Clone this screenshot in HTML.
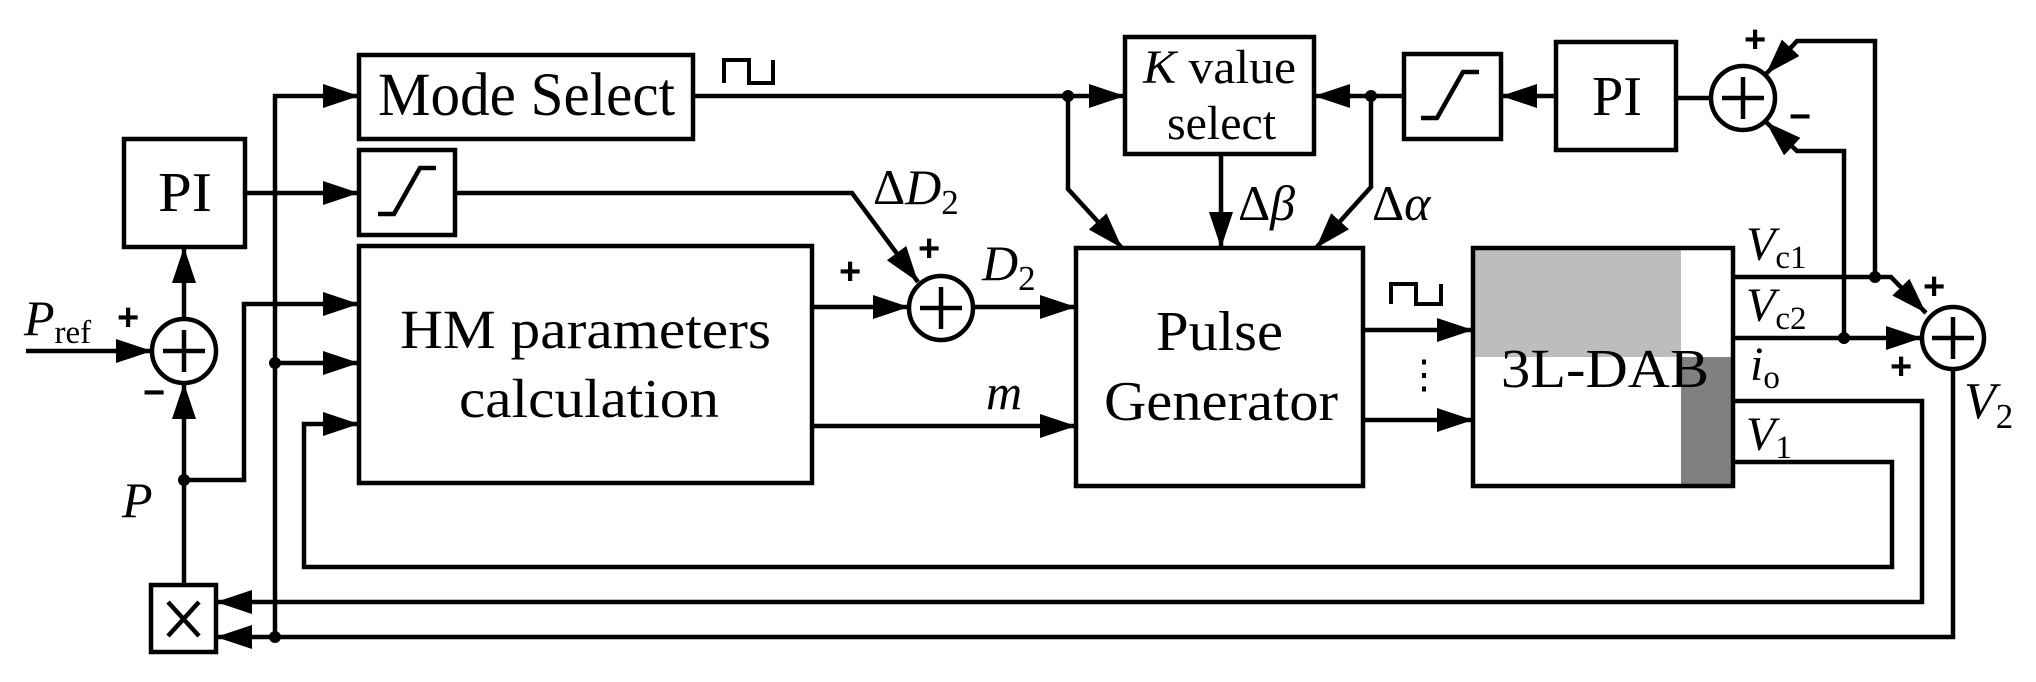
<!DOCTYPE html>
<html><head><meta charset="utf-8"><style>
html,body{margin:0;padding:0;background:#fff;}
svg{display:block;}
text{font-family:"Liberation Serif",serif;fill:#000;}
.s{font-family:"Liberation Sans",sans-serif;font-weight:bold;}
</style></head><body>
<svg width="2036" height="682" viewBox="0 0 2036 682" xmlns="http://www.w3.org/2000/svg">
<defs>
<marker id="a" viewBox="0 0 36 24" refX="36" refY="12" markerWidth="36" markerHeight="24" orient="auto" markerUnits="userSpaceOnUse">
<path d="M0,0 L36,12 L0,24 Z" fill="#000"/>
</marker>
</defs>
<g fill="none" stroke="#000" stroke-width="4.5">
<rect x="359" y="55" width="334" height="84"/>
<rect x="124" y="139" width="121" height="108"/>
<rect x="359" y="150" width="96" height="85"/>
<rect x="359" y="246" width="453" height="237"/>
<rect x="151" y="585" width="65" height="67"/>
<rect x="1125" y="37" width="189" height="117"/>
<rect x="1404" y="54" width="97" height="85"/>
<rect x="1556" y="42" width="120" height="108"/>
<rect x="1076" y="248" width="287" height="238"/>
</g>
<rect x="1475" y="250" width="206" height="107" fill="#bdbdbd"/>
<rect x="1681" y="357" width="52" height="128" fill="#808080"/>
<rect x="1473" y="248" width="260" height="238" fill="none" stroke="#000" stroke-width="4.5"/>

<g fill="none" stroke="#000" stroke-width="4.5">
<path d="M378,214 L394,214 L420,168 L436,168"/>
<path d="M1421,118 L1437,118 L1463,72 L1479,72"/>
<path d="M724,83 V60 H749 V83 H773 V60" stroke-width="4"/>
<path d="M1391,304 V284 H1416 V304 H1441 V284" stroke-width="4"/>
<circle cx="184" cy="351" r="32"/>
<path d="M163,351 H205 M184,330 V372"/>
<circle cx="941" cy="308" r="32"/>
<path d="M920,308 H962 M941,287 V329"/>
<circle cx="1743" cy="98" r="32"/>
<path d="M1722,98 H1764 M1743,77 V119"/>
<circle cx="1953" cy="338" r="31"/>
<path d="M1932,338 H1974 M1953,317 V359"/>
<path d="M168,602 L199,636 M199,602 L168,636"/>

<path d="M26,351 H152" marker-end="url(#a)"/>
<path d="M184,319 V247" marker-end="url(#a)"/>
<path d="M184,585 V383" marker-end="url(#a)"/>
<path d="M184,480 H244 V304 H359" marker-end="url(#a)"/>
<path d="M245,193 H359" marker-end="url(#a)"/>
<path d="M275,637 V96 H359" marker-end="url(#a)"/>
<path d="M275,363 H359" marker-end="url(#a)"/>
<path d="M455,193 H852 L918,282" marker-end="url(#a)"/>
<path d="M812,307 H909" marker-end="url(#a)"/>
<path d="M973,307 H1076" marker-end="url(#a)"/>
<path d="M812,426 H1076" marker-end="url(#a)"/>
<path d="M693,96 H1125" marker-end="url(#a)"/>
<path d="M1068,96 V189 L1122,248" marker-end="url(#a)"/>
<path d="M1221,154 V248" marker-end="url(#a)"/>
<path d="M1404,96 H1314" marker-end="url(#a)"/>
<path d="M1371,96 V187 L1316,248" marker-end="url(#a)"/>
<path d="M1556,96 H1501" marker-end="url(#a)"/>
<path d="M1711,98 H1676"/>
<path d="M1875,277 V41 H1797 L1766,74" marker-end="url(#a)"/>
<path d="M1844,338 V151 H1797 L1766,122" marker-end="url(#a)"/>
<path d="M1363,330 H1473" marker-end="url(#a)"/>
<path d="M1363,420 H1473" marker-end="url(#a)"/>
<path d="M1735,277 H1891 L1926,313" marker-end="url(#a)"/>
<path d="M1735,338 H1922" marker-end="url(#a)"/>
<path d="M1735,401 H1922 V602 H216" marker-end="url(#a)"/>
<path d="M1735,462 H1892 V567 H304 V424 H359" marker-end="url(#a)"/>
<path d="M1953,369 V637 H216" marker-end="url(#a)"/>
</g>
<g fill="#000">
<circle cx="184" cy="480" r="6"/>
<circle cx="275" cy="363" r="6"/>
<circle cx="275" cy="637" r="6"/>
<circle cx="1068" cy="96" r="6"/>
<circle cx="1371" cy="96" r="6"/>
<circle cx="1875" cy="277" r="6"/>
<circle cx="1844" cy="338" r="6"/>
</g>

<text x="378" y="115" font-size="61" textLength="297" lengthAdjust="spacingAndGlyphs">Mode Select</text>
<text x="158" y="211" font-size="56" textLength="54" lengthAdjust="spacingAndGlyphs">PI</text>
<text x="1592" y="115" font-size="56" textLength="50" lengthAdjust="spacingAndGlyphs">PI</text>
<text x="400" y="348" font-size="55" textLength="371" lengthAdjust="spacingAndGlyphs">HM parameters</text>
<text x="459" y="417" font-size="55" textLength="260" lengthAdjust="spacingAndGlyphs">calculation</text>
<text x="1156" y="350" font-size="56" textLength="127" lengthAdjust="spacingAndGlyphs">Pulse</text>
<text x="1104" y="420" font-size="56" textLength="234" lengthAdjust="spacingAndGlyphs">Generator</text>
<text x="1501" y="387" font-size="55" textLength="208" lengthAdjust="spacingAndGlyphs">3L-DAB</text>
<text x="1143" y="83" font-size="48" textLength="153" lengthAdjust="spacingAndGlyphs"><tspan font-style="italic">K</tspan> value</text>
<text x="1167" y="139" font-size="48" textLength="109" lengthAdjust="spacingAndGlyphs">select</text>
<text x="1404" y="388" font-size="40">⋮</text>

<text x="873" y="204" font-size="50">Δ<tspan font-style="italic">D</tspan><tspan font-size="35" dy="10">2</tspan></text>
<text x="982" y="280" font-size="50" font-style="italic">D<tspan font-size="35" dy="10" font-style="normal">2</tspan></text>
<text x="986" y="409" font-size="50" font-style="italic">m</text>
<text x="1238" y="220" font-size="50">Δ<tspan font-style="italic">β</tspan></text>
<text x="1372" y="220" font-size="50">Δ<tspan font-style="italic">α</tspan></text>
<text x="24" y="335" font-size="50" font-style="italic">P<tspan font-size="33" dy="8" font-style="normal">ref</tspan></text>
<text x="122" y="517" font-size="50" font-style="italic">P</text>
<text x="1746" y="260" font-size="48" font-style="italic">V<tspan font-size="33" dy="8" font-style="normal">c1</tspan></text>
<text x="1746" y="321" font-size="48" font-style="italic">V<tspan font-size="33" dy="8" font-style="normal">c2</tspan></text>
<text x="1750" y="380" font-size="48" font-style="italic">i<tspan font-size="33" dy="8" font-style="normal">o</tspan></text>
<text x="1746" y="450" font-size="48" font-style="italic">V<tspan font-size="33" dy="8" font-style="normal">1</tspan></text>
<text x="1964" y="418" font-size="52" font-style="italic">V<tspan font-size="35" dy="10" font-style="normal">2</tspan></text>

<g font-size="38">
<text x="117" y="330" class="s">+</text>
<text x="143" y="405" class="s">−</text>
<text x="839" y="284" class="s">+</text>
<text x="918" y="261" class="s">+</text>
<text x="1744" y="52" class="s">+</text>
<text x="1789" y="129" class="s">−</text>
<text x="1923" y="299" class="s">+</text>
<text x="1890" y="379" class="s">+</text>
</g>
</svg>
</body></html>
